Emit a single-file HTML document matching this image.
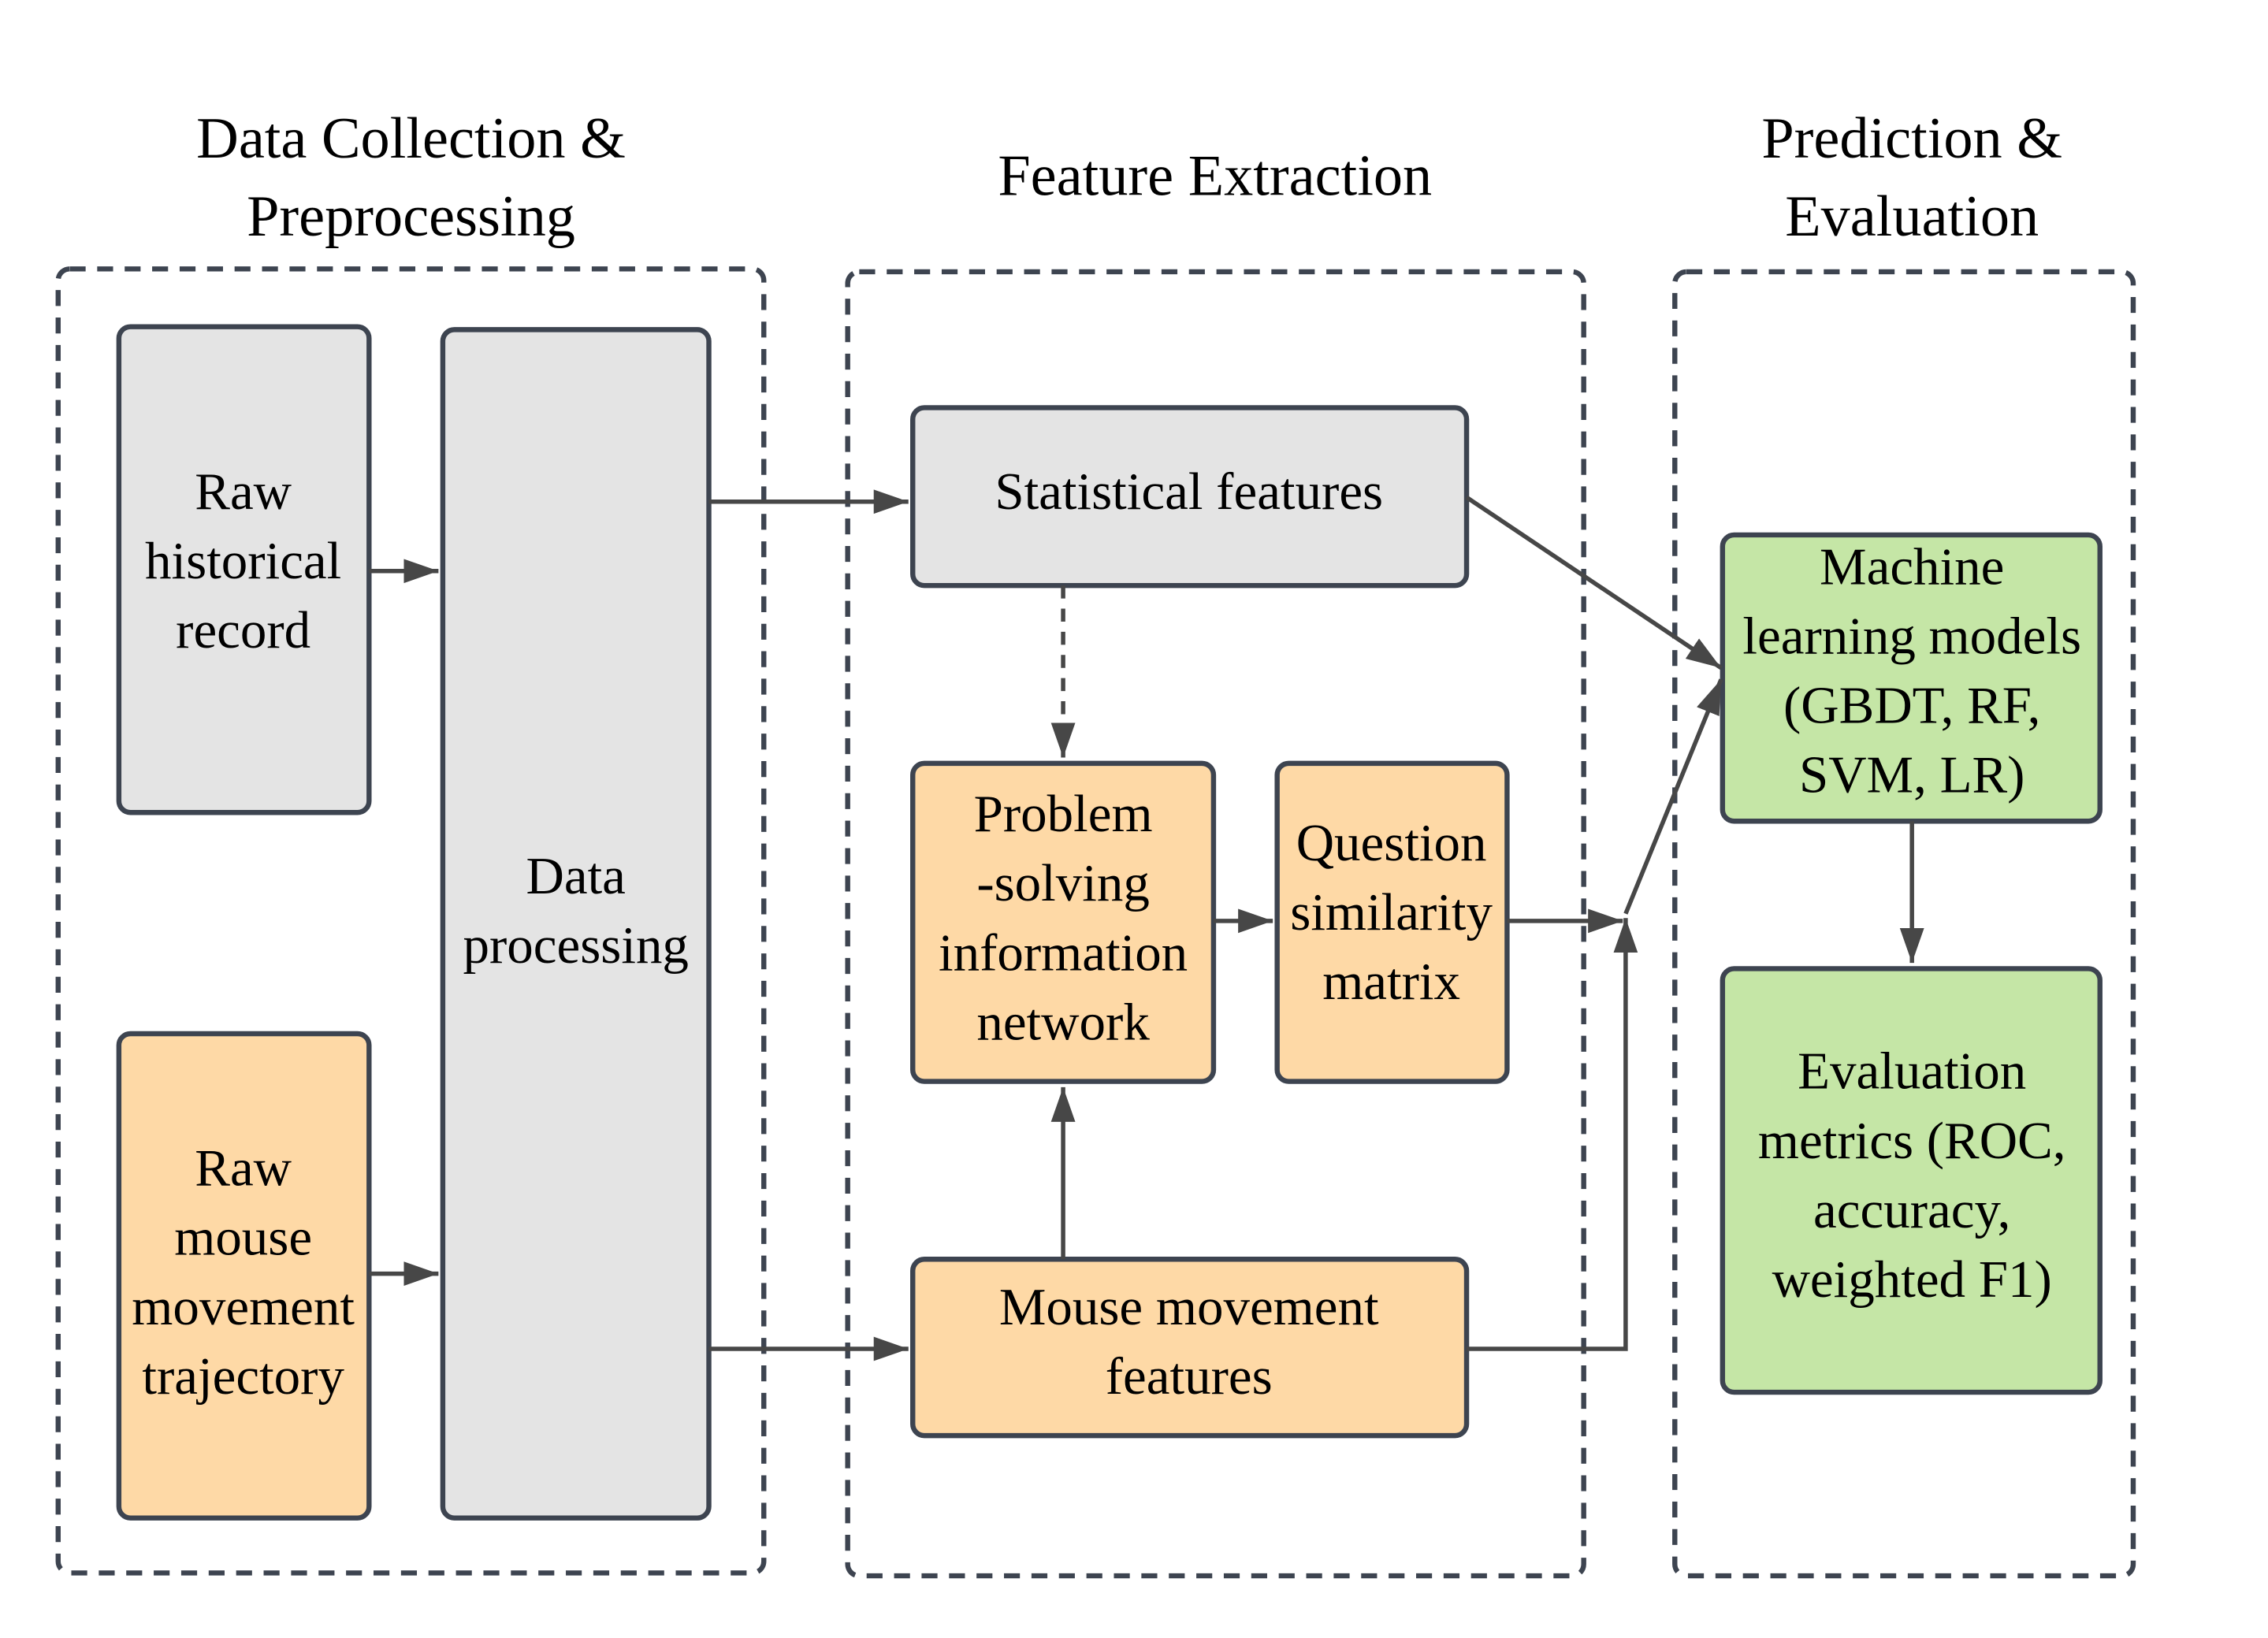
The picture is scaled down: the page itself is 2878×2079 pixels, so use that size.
<!DOCTYPE html>
<html><head><meta charset="utf-8"><style>html,body{margin:0;padding:0;background:#fff}svg{display:block}</style></head>
<body>
<svg width="2878" height="2079" viewBox="0 0 1568 1133" xmlns="http://www.w3.org/2000/svg" font-family="Liberation Serif, serif" font-size="36.5" text-anchor="middle">
<defs>
<marker id="b" viewBox="0 0 10 10" refX="10" refY="5" markerWidth="24" markerHeight="24" orient="auto" markerUnits="userSpaceOnUse"><path d="M0,1.5 L10,5 L0,8.5 z" fill="#474747"/></marker></defs>
<rect width="1568" height="1133" fill="#fff"/>
<g fill="none" stroke="#3d4450" stroke-width="3.5" stroke-dasharray="11,8">
<rect x="40" y="186" width="488" height="902" rx="8"/>
<rect x="586" y="188" width="509" height="902" rx="8"/>
<rect x="1158" y="188" width="317" height="902" rx="8"/>
</g>
<g font-size="40.5"><text x="284" y="109">Data Collection &amp;</text><text x="284" y="163">Preprocessing</text>
<text x="840" y="135">Feature Extraction</text>
<text x="1322" y="109">Prediction &amp;</text><text x="1322" y="163">Evaluation</text></g>
<g stroke="#3d4450" stroke-width="3.5">
<rect x="82" y="226" width="173" height="336" rx="8" fill="#e4e4e4"/>
<rect x="82" y="715" width="173" height="335" rx="8" fill="#fed9a6"/>
<rect x="306" y="228" width="184" height="822" rx="8" fill="#e4e4e4"/>
<rect x="631" y="282" width="383" height="123" rx="8" fill="#e4e4e4"/>
<rect x="631" y="528" width="208" height="220" rx="8" fill="#fed9a6"/>
<rect x="883" y="528" width="159" height="220" rx="8" fill="#fed9a6"/>
<rect x="631" y="871" width="383" height="122" rx="8" fill="#fed9a6"/>
<rect x="1191" y="370" width="261" height="198" rx="8" fill="#c5e6a6"/>
<rect x="1191" y="670" width="261" height="293" rx="8" fill="#c5e6a6"/>
</g>
<g stroke="#474747" stroke-width="3" fill="none" marker-end="url(#b)">
<path d="M255,395 H303"/><path d="M255,881 H303"/>
<path d="M490,347 H628"/><path d="M490,933 H628"/>
<path d="M735,405 V524" stroke-dasharray="9,7"/>
<path d="M839,637 H880"/><path d="M1042,637 H1122"/>
<path d="M735,871 V752"/>
<path d="M1014,933 H1124 V635"/>
<path d="M1124,632 L1190,470"/>
<path d="M1014,344 L1190,462"/>
<path d="M1322,568 V666"/>
</g>
<g fill="#000">
<text x="168" y="352">Raw</text><text x="168" y="400">historical</text><text x="168" y="448">record</text>
<text x="168" y="820">Raw</text><text x="168" y="868">mouse</text><text x="168" y="916">movement</text><text x="168" y="964">trajectory</text>
<text x="398" y="618">Data</text><text x="398" y="666">processing</text>
<text x="822" y="352">Statistical features</text>
<text x="735" y="575">Problem</text><text x="735" y="623">-solving</text><text x="735" y="671">information</text><text x="735" y="719">network</text>
<text x="962" y="595">Question</text><text x="962" y="643">similarity</text><text x="962" y="691">matrix</text>
<text x="822" y="916">Mouse movement</text><text x="822" y="964">features</text>
<text x="1322" y="404">Machine</text><text x="1322" y="452">learning models</text><text x="1322" y="500">(GBDT, RF,</text><text x="1322" y="548">SVM, LR)</text>
<text x="1322" y="753">Evaluation</text><text x="1322" y="801">metrics (ROC,</text><text x="1322" y="849">accuracy,</text><text x="1322" y="897">weighted F1)</text>
</g>
</svg>
</body></html>
